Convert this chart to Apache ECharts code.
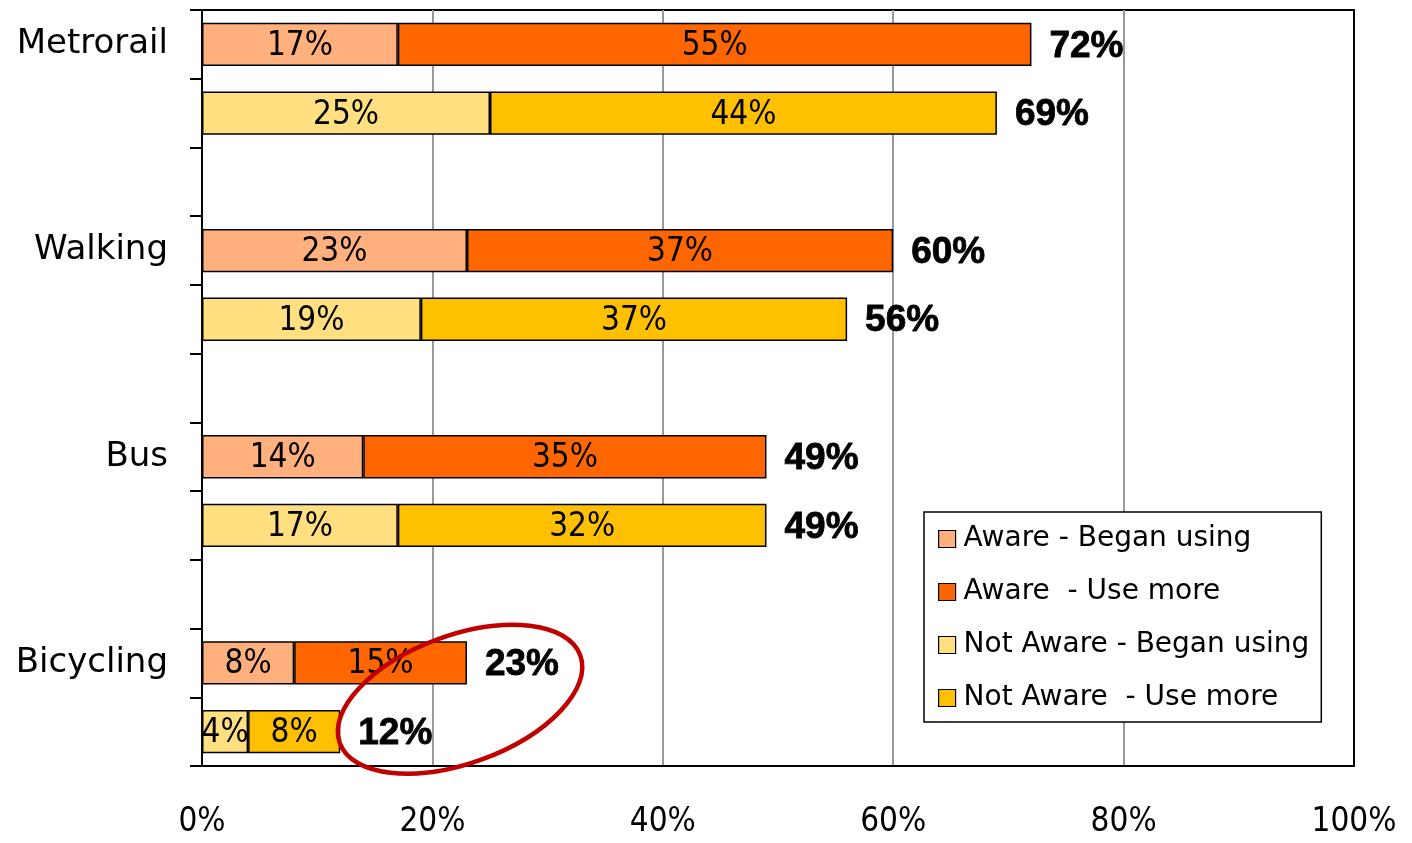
<!DOCTYPE html>
<html>
<head>
<meta charset="utf-8">
<script src="https://cdn.jsdelivr.net/npm/echarts@6/dist/echarts.min.js"></script>
<style>html,body{margin:0;padding:0;background:#fff;}#c{width:1412px;height:843px;}</style>
</head>
<body>
<div id="c"></div>
<script>
// Modes (category labels) and the two groups per mode
const modes = ['Metrorail', 'Walking', 'Bus', 'Bicycling'];
const seriesNames = ['Aware - Began using', 'Aware  - Use more', 'Not Aware - Began using', 'Not Aware  - Use more'];
// values per mode (top to bottom)
const awareBegan    = [17, 23, 14, 8];
const awareMore     = [55, 37, 35, 15];
const notAwareBegan = [25, 19, 17, 4];
const notAwareMore  = [44, 37, 32, 8];
const awareTotal    = [72, 60, 49, 23];
const notAwareTotal = [69, 56, 49, 12];
const xTicks = [0, 20, 40, 60, 80, 100];
const colors = ['#FFB07C', '#FF6600', '#FFDF80', '#FFC000'];

// build 11 rows: aware, not aware, gap per mode (no gap after last)
const rowKeys = [], rowLabels = [];
const sA = [], sB = [], sC = [], sD = [], tot = [];
modes.forEach((m, i) => {
  rowKeys.push(m + '|aware'); rowLabels.push(m);
  sA.push(awareBegan[i]); sB.push(awareMore[i]); sC.push('-'); sD.push('-');
  tot.push([awareTotal[i], rowKeys.length - 1]);
  rowKeys.push(m + '|not'); rowLabels.push('');
  sA.push('-'); sB.push('-'); sC.push(notAwareBegan[i]); sD.push(notAwareMore[i]);
  tot.push([notAwareTotal[i], rowKeys.length - 1]);
  if (i < modes.length - 1) {
    rowKeys.push(m + '|gap'); rowLabels.push('');
    sA.push('-'); sB.push('-'); sC.push('-'); sD.push('-');
  }
});

const numFont = "'Liberation Sans Narrow', 'DejaVu Sans Condensed', 'Liberation Sans', sans-serif";
const txtFont = "'DejaVu Sans', sans-serif";

function barSeries(name, data, color) {
  return {
    name: name, type: 'bar', stack: 'all', data: data, barWidth: '63%',
    itemStyle: { color: color, borderColor: '#000', borderWidth: 1.5 },
    label: { show: true, position: 'inside', color: '#000', fontFamily: numFont, fontSize: 33,
      offset: [0, 2], formatter: p => p.value + '%' },
    emphasis: { disabled: true }, animation: false
  };
}

const chart = echarts.init(document.getElementById('c'), null, { renderer: 'canvas' });
const option = {
  animation: false,
  backgroundColor: '#fff',
  grid: { left: 202, right: 58, top: 10, bottom: 77, show: true, borderColor: '#000', borderWidth: 2, backgroundColor: 'transparent' },
  xAxis: {
    type: 'value', min: 0, max: 100, interval: 20,
    axisLine: { show: true, lineStyle: { color: '#000', width: 2 } },
    axisTick: { show: false },
    splitLine: { show: true, lineStyle: { color: ['#000', '#999', '#999', '#999', '#999', '#000'], width: 2 } },
    axisLabel: { color: '#000', fontFamily: numFont, fontSize: 33, margin: 40, formatter: v => v + '%' }
  },
  yAxis: {
    type: 'category', inverse: true, data: rowKeys,
    axisLine: { show: true, lineStyle: { color: '#000', width: 2 } },
    axisTick: { show: true, inside: false, length: 12, interval: 0, lineStyle: { color: '#000', width: 2 } },
    splitLine: { show: false },
    axisLabel: { interval: 0, color: '#000', fontFamily: txtFont, fontSize: 34, margin: 34,
      formatter: (v, idx) => rowLabels[idx] }
  },
  legend: {
    orient: 'vertical', left: 924, top: 512,
    data: seriesNames,
    backgroundColor: '#fff', borderColor: '#000', borderWidth: 1.5,
    padding: [12, 12, 9, 14],
    itemWidth: 17, itemHeight: 17, itemGap: 23,
    icon: 'rect',
    itemStyle: { borderColor: '#000', borderWidth: 1.2 },
    textStyle: { color: '#000', fontFamily: txtFont, fontSize: 28, lineHeight: 30, padding: [0, 0, 0, 3] },
    selectedMode: false
  },
  series: [
    barSeries(seriesNames[0], sA, colors[0]),
    barSeries(seriesNames[1], sB, colors[1]),
    barSeries(seriesNames[2], sC, colors[2]),
    barSeries(seriesNames[3], sD, colors[3]),
    {
      name: 'total', type: 'scatter', data: tot, symbolSize: 0, silent: true,
      itemStyle: { color: '#000', opacity: 1 },
      label: { show: true, position: 'right', distance: 18, color: '#000', opacity: 1, fontWeight: 'bold',
        fontFamily: "'Liberation Sans', Arial, sans-serif", fontSize: 37,
        textBorderColor: '#000', textBorderWidth: 0.8,
        offset: [0, 2], formatter: p => p.value[0] + '%' },
      z: 5
    }
  ]
};
chart.setOption(option);

// annotation ellipse around the bicycling totals
const lastA = rowKeys.length - 2, lastN = rowKeys.length - 1;
const pA = chart.convertToPixel({ gridIndex: 0 }, [22.4, lastA]);
const pN = chart.convertToPixel({ gridIndex: 0 }, [22.4, lastN]);
const cx = pA[0], cy = (pA[1] + pN[1]) / 2 + 2;
chart.setOption({
  graphic: [{
    type: 'ellipse', x: cx, y: cy, rotation: 20 * Math.PI / 180,
    shape: { cx: 0, cy: 0, rx: 128, ry: 64 },
    style: { fill: 'none', stroke: '#C00000', lineWidth: 4.5 }, z: 100, silent: true
  }]
});
</script>
</body>
</html>
